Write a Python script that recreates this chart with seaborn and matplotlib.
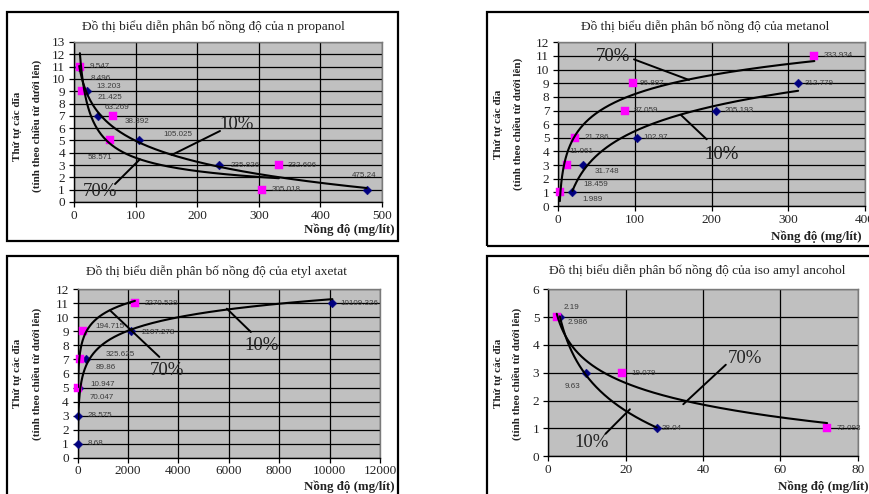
import numpy as np
import matplotlib
matplotlib.use("Agg")
import matplotlib.pyplot as plt
import seaborn as sns
from matplotlib.patches import Rectangle

sns.set_theme(style="white")
plt.rcParams["font.family"] = ["Liberation Serif", "DejaVu Serif"]

# ---- data: concentration (mg/lít) per plate, for the 10% and 70% series ----
# n propanol
prop_y10 = [1, 3, 5, 7, 9, 11]
prop_x10 = [475.24, 235.826, 105.025, 38.392, 21.425, 8.496]
prop_y70 = [1, 3, 5, 7, 9, 11]
prop_x70 = [305.018, 332.606, 58.571, 63.269, 13.203, 9.547]

# metanol
met_y10 = [1, 3, 5, 7, 9]
met_x10 = [18.459, 31.748, 102.97, 205.193, 312.779]
met_y70 = [1, 3, 5, 7, 9, 11]
met_x70 = [1.989, 11.061, 21.786, 87.059, 96.887, 333.934]

# etyl axetat
eth_y10 = [1, 3, 5, 7, 9, 11]
eth_x10 = [8.68, 28.575, 70.047, 325.625, 2107.278, 10109.326]
eth_y70 = [5, 7, 9, 11]
eth_x70 = [10.947, 89.86, 194.715, 2270.528]

# iso amyl ancohol
iso_y10 = [5, 3, 1]
iso_x10 = [2.986, 9.63, 28.04]
iso_y70 = [5, 3, 1]
iso_x70 = [2.19, 19.079, 72.093]

titles = [
    "Đồ thị biểu diễn phân bố nồng độ của n propanol",
    "Đồ thị biểu diễn phân bố nồng độ của metanol",
    "Đồ thị biểu diễn phân bố nồng độ của etyl axetat",
    "Đồ thị biểu diễn phân bố nồng độ của iso amyl ancohol",
]
ylabel_1 = "Thứ tự các đĩa"
ylabel_2 = "(tính theo chiều từ dưới lên)"
xlabel = "Nồng độ (mg/lít)"

W, H = 870, 494
fig = plt.figure(figsize=(W / 100, H / 100), dpi=100)
fig.patch.set_facecolor("white")


def fx(px):
    return px / W


def fy(py):
    return 1 - py / H


def trend(x, y, kind):
    x = np.asarray(x, float)
    y = np.asarray(y, float)
    xs = np.geomspace(x.min(), x.max(), 300)
    if kind == "power":
        d, c = np.polyfit(np.log(x), np.log(y), 1)
        ys = np.exp(c) * xs ** d
    else:
        b, a = np.polyfit(np.log(x), y, 1)
        ys = a + b * np.log(xs)
    return xs, ys


NAVY = "#000080"
MAGENTA = "#FF00FF"

# label offsets in pixels (dx to text left edge, dy downward)
panels = [
    dict(
        box=(74, 42, 382, 202), xlim=(0, 500), xticks=range(0, 501, 100),
        ylim=(0, 13), yticks=range(0, 14),
        s10=(prop_x10, prop_y10, "log"), s70=(prop_x70, prop_y70, "power"),
        off10=[(-15, -14), (11, 0), (25, -6), (27, 6), (10, 6.5), (11.5, 12)],
        off70=[(10, 0), (8.5, 0), (-22, 17), (-8, -8), (14.5, -4.5), (9.5, 0)],
        ann=[("10%", (264, 6.26), (237, 5.77), (158.6, 3.82)),
             ("70%", (42.2, 0.84), (66.6, 1.46), (107, 3.47))],
        frame=(7.3, 12.3, 397.7, 240.7), title_xy=(213, 26.7),
        yl_x=(17.3, 36.7), yl_y=126, xl=(395, 230, "right"),
    ),
    dict(
        box=(558.3, 42.3, 865, 206), xlim=(0, 400), xticks=range(0, 401, 100),
        ylim=(0, 12), yticks=range(0, 13),
        s10=(met_x10, met_y10, "log"), s70=(met_x70, met_y70, "log"),
        off10=[(11, -8), (12, 6), (6, 0), (9, 0), (7, 0)],
        off70=[(23, 7.5), (3, -14), (10, 0), (9, 0), (7.5, 0), (9, 0)],
        ann=[("70%", (71.7, 10.95), (98.7, 10.75), (170.5, 9.24)),
             ("10%", (213, 3.81), (193.5, 4.89), (160, 6.67))],
        frame=(486.7, 12.3, 880, 246.3), title_xy=(704.7, 26.7),
        yl_x=(499, 517.7), yl_y=124, xl=(771.5, 236.7, "left"),
    ),
    dict(
        box=(77.7, 289.3, 380, 457.7), xlim=(0, 12000), xticks=range(0, 12001, 2000),
        ylim=(0, 12), yticks=range(0, 13),
        s10=(eth_x10, eth_y10, "log"), s70=(eth_x70, eth_y70, "log"),
        off10=[(9.5, 0), (9, 0), (10, 10), (20, -5), (11, 1.3), (8.5, 0)],
        off70=[(12, -3), (16, 8.5), (12.5, -4.5), (9.5, 0)],
        ann=[("10%", (7310, 8.01), (6873, 8.96), (5920, 10.62)),
             ("70%", (3536, 6.18), (3242, 7.18), (1283, 10.5))],
        frame=(7.3, 256, 397.7, 500), title_xy=(217, 272),
        yl_x=(17.3, 36.7), yl_y=373.7, xl=(395, 486.3, "right"),
    ),
    dict(
        box=(548.3, 289.3, 857.7, 456.3), xlim=(0, 80), xticks=range(0, 81, 20),
        ylim=(0, 6), yticks=range(0, 7),
        s10=(iso_x10, iso_y10, "log"), s70=(iso_x70, iso_y70, "log"),
        off10=[(8, 5), (-21, 14), (5, 0.5)],
        off70=[(6.5, -9.5), (9.5, 0.5), (9.5, 0.5)],
        ann=[("70%", (50.9, 3.51), (45.9, 3.29), (34.9, 1.87)),
             ("10%", (11.2, 0.48), (14.8, 0.81), (21.1, 1.69))],
        frame=(486.7, 256.3, 880, 500), title_xy=(697, 271),
        yl_x=(498.3, 516.7), yl_y=373.7, xl=(868.3, 486.3, "right"),
    ),
]

for i, p in enumerate(panels):
    x0, y0, x1, y1 = p["box"]
    ax = fig.add_axes([fx(x0), fy(y1), (x1 - x0) / W, (y1 - y0) / H])
    ax.set_facecolor("#C0C0C0")

    for key, marker, color, size, offs in (
        ("s10", "D", NAVY, 20, p["off10"]),
        ("s70", "s", MAGENTA, 30, p["off70"]),
    ):
        xs, ys, kind = p[key]
        sns.scatterplot(x=xs, y=ys, marker=marker, color=color, s=size,
                        edgecolor=color, linewidth=0.3, ax=ax, zorder=4,
                        clip_on=False, legend=False)
        tx, ty = trend(xs, ys, kind)
        sns.lineplot(x=tx, y=ty, sort=False, estimator=None, color="black",
                     lw=1.5, ax=ax, zorder=5, legend=False)
        for xv, yv, (dx, dy) in zip(xs, ys, offs):
            ax.annotate(str(xv), (xv, yv), xytext=(dx, -dy),
                        textcoords="offset pixels", ha="left", va="center",
                        fontsize=5.8, color="#3a3a3a",
                        family=["Liberation Sans", "DejaVu Sans"], zorder=6,
                        annotation_clip=False)

    for text, txy, a, b in p["ann"]:
        ax.text(txy[0], txy[1], text, ha="center", va="center", fontsize=13.5,
                color="#222222", zorder=7)
        ax.plot([a[0], b[0]], [a[1], b[1]], color="black", lw=1.4, zorder=7)

    ax.set_xlim(*p["xlim"])
    ax.set_ylim(*p["ylim"])
    ax.set_xticks(list(p["xticks"]))
    ax.set_yticks(list(p["yticks"]))
    ax.grid(True, color="black", lw=0.9)
    ax.set_axisbelow(True)
    ax.set_xlabel("")
    ax.set_ylabel("")
    for side in ("top", "right"):
        ax.spines[side].set_color("#7a7a7a")
        ax.spines[side].set_linewidth(1.0)
    for side in ("left", "bottom"):
        ax.spines[side].set_color("black")
        ax.spines[side].set_linewidth(1.0)
    ax.tick_params(axis="both", direction="out", length=3.5, width=0.9,
                   color="black", labelsize=9.5, labelcolor="#222222",
                   bottom=True, left=True)
    ax.tick_params(axis="x", pad=2)
    ax.tick_params(axis="y", pad=3)

    # chart frame
    fx0, fy0, fx1, fy1 = p["frame"]
    fig.patches.append(Rectangle((fx(fx0), fy(fy1)), (fx1 - fx0) / W,
                                 (fy1 - fy0) / H, transform=fig.transFigure,
                                 fill=False, edgecolor="black", lw=1.6,
                                 zorder=10))

    fig.text(fx(p["title_xy"][0]), fy(p["title_xy"][1]), titles[i],
             ha="center", va="center", fontsize=9.6, color="#222222")
    fig.text(fx(p["yl_x"][0]), fy(p["yl_y"]), ylabel_1, rotation=90,
             ha="center", va="center", fontsize=8, fontweight="bold",
             color="#222222")
    fig.text(fx(p["yl_x"][1]), fy(p["yl_y"]), ylabel_2, rotation=90,
             ha="center", va="center", fontsize=8, fontweight="bold",
             color="#222222")
    xl_x, xl_y, xl_ha = p["xl"]
    fig.text(fx(xl_x), fy(xl_y), xlabel, ha=xl_ha, va="center",
             fontsize=9.3, fontweight="bold", color="#222222")

fig.savefig("out.png", dpi=100, facecolor="white")
